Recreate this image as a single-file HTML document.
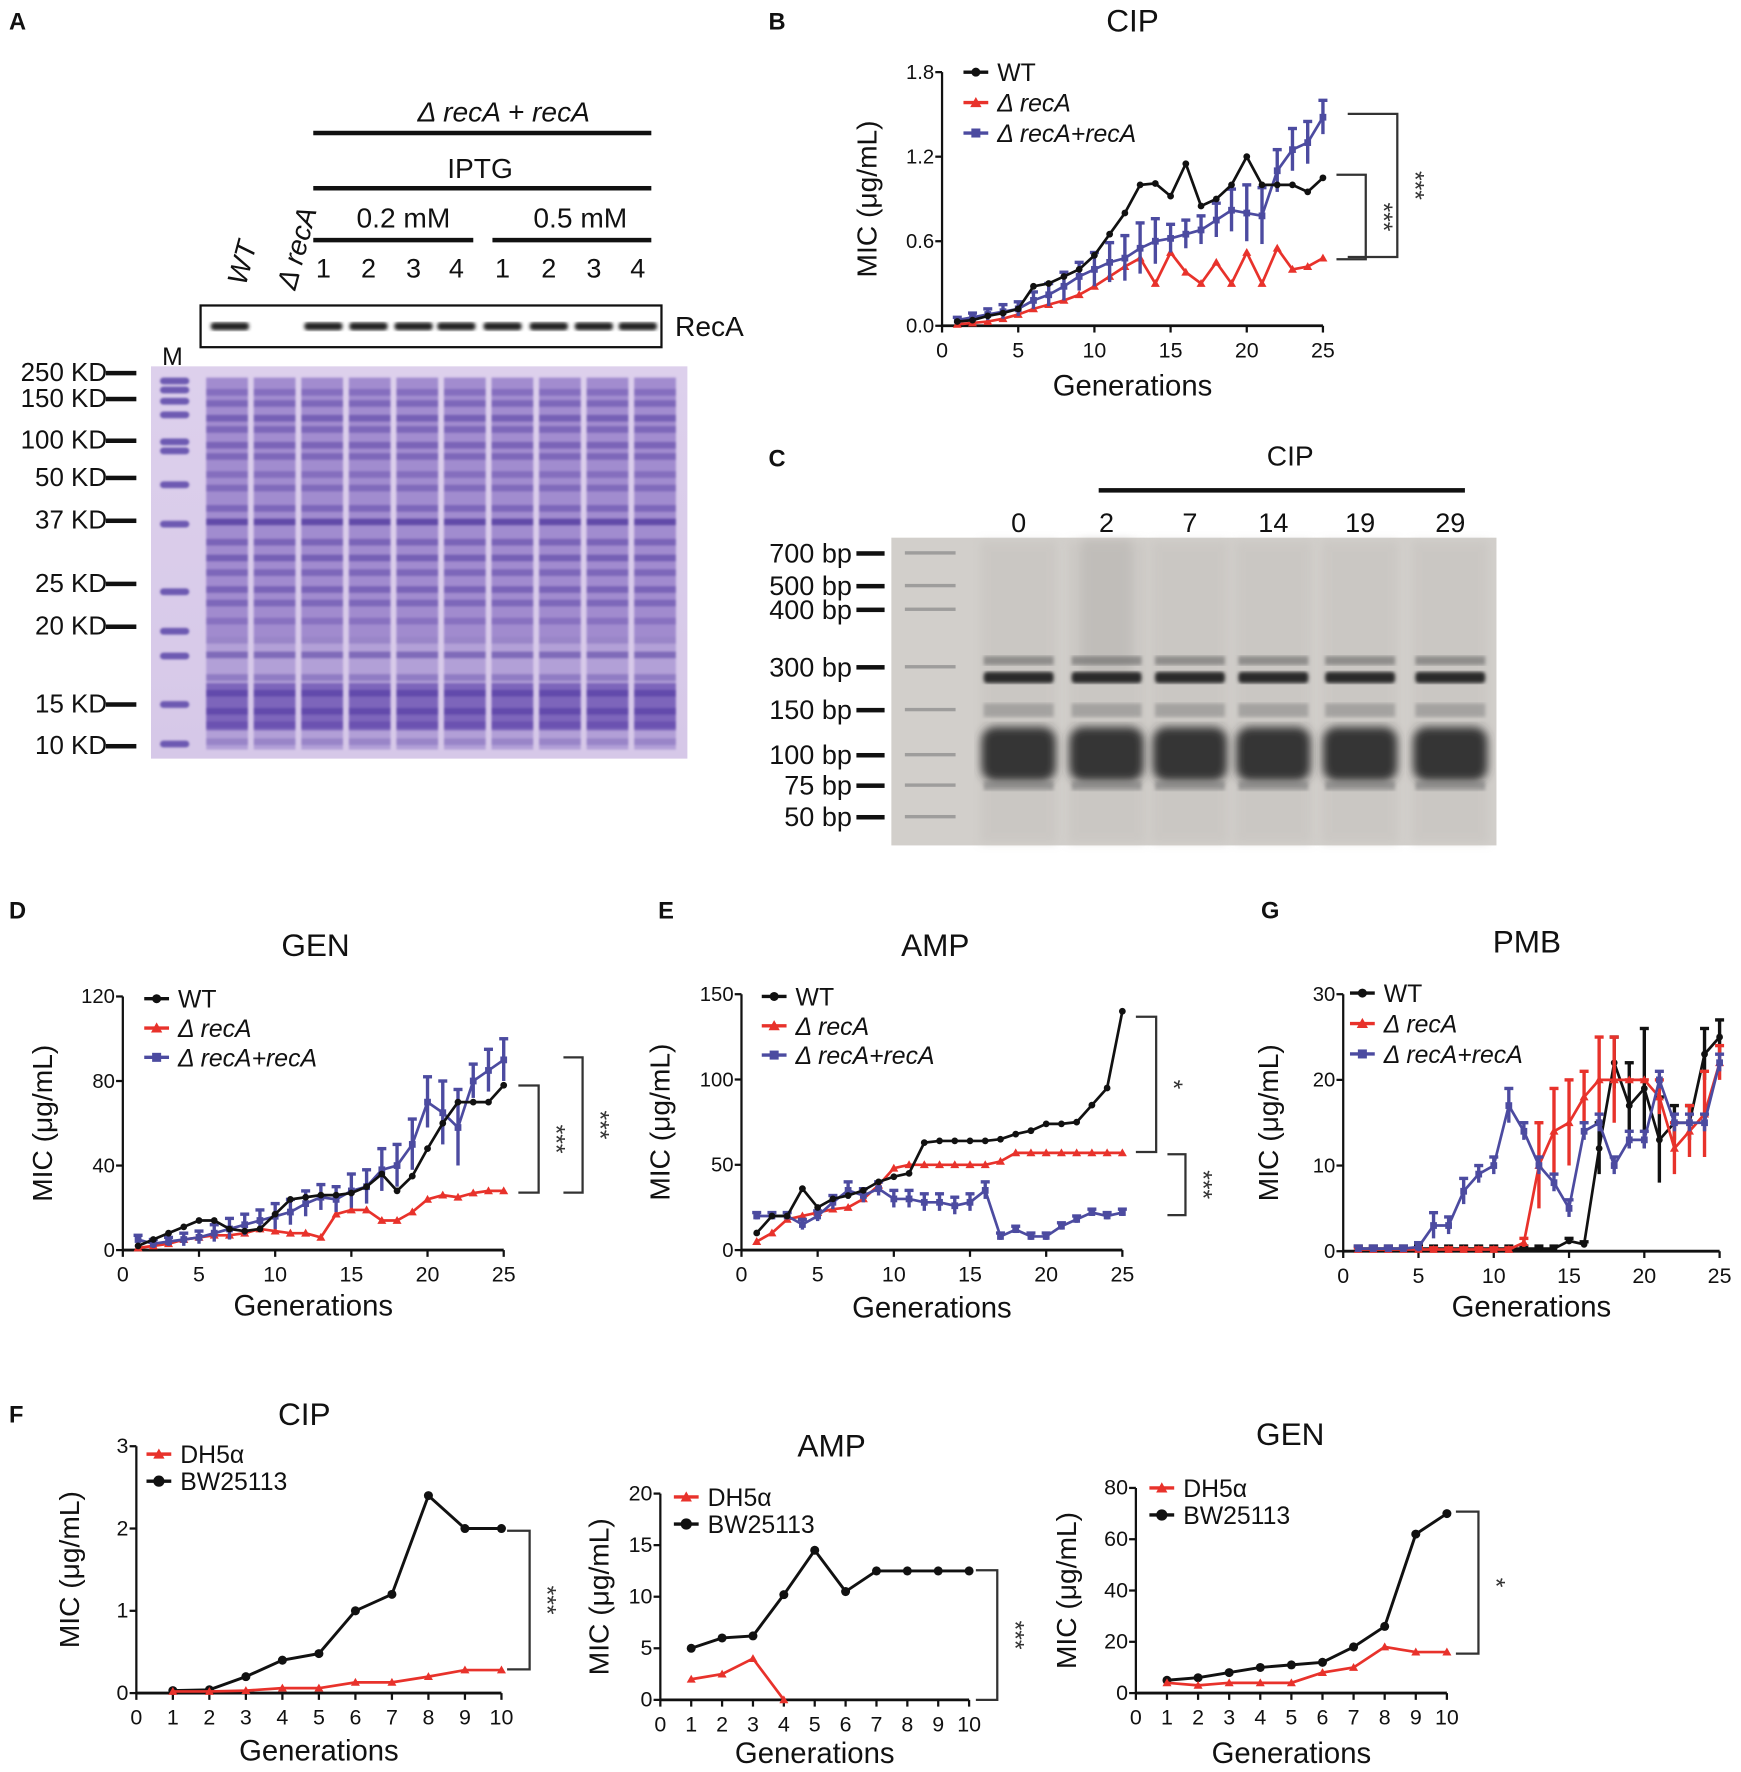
<!DOCTYPE html>
<html><head><meta charset="utf-8"><style>
html,body{margin:0;padding:0;background:#fff}
svg{display:block}
text{font-family:"Liberation Sans",Arial,sans-serif}
</style></head><body>
<svg id="fig" width="1741" height="1772" viewBox="0 0 1545 1572" preserveAspectRatio="none" xmlns="http://www.w3.org/2000/svg">
<defs>
<linearGradient id="gelA" x1="0" y1="0" x2="0" y2="1"><stop offset="0" stop-color="#ddd0ec"/><stop offset="1" stop-color="#d6c8e8"/></linearGradient>
<filter id="blur1"><feGaussianBlur stdDeviation="0.9"/></filter>
<filter id="blur2"><feGaussianBlur stdDeviation="1.6"/></filter>
<filter id="blur4"><feGaussianBlur stdDeviation="4"/></filter>
</defs>
<g font-weight="bold" font-size="21" fill="#111">
<text x="8" y="26">A</text>
<text x="682" y="26">B</text>
<text x="682" y="414">C</text>
<text x="8" y="815">D</text>
<text x="584" y="815">E</text>
<text x="1119" y="815">G</text>
<text x="8" y="1262">F</text>
</g>
<!-- Panel A -->
<g id="panelA" fill="#111">
<text x="447" y="108" font-size="25" text-anchor="middle" font-style="italic">Δ recA + recA</text>
<rect x="278" y="116" width="300" height="4"/>
<text x="426" y="158" font-size="25" text-anchor="middle">IPTG</text>
<rect x="278" y="165" width="300" height="4"/>
<text x="358" y="202" font-size="25" text-anchor="middle">0.2 mM</text>
<text x="515" y="202" font-size="25" text-anchor="middle">0.5 mM</text>
<rect x="278" y="211" width="142" height="4"/>
<rect x="437" y="211" width="141" height="4"/>
<g font-size="24" text-anchor="middle" id="laneNums"></g>
<text transform="translate(218,254) rotate(-75)" font-size="25" font-style="italic">WT</text>
<text transform="translate(262,258) rotate(-75)" font-size="25" font-style="italic">Δ recA</text>
<rect x="178" y="271" width="409" height="37" fill="#fff" stroke="#111" stroke-width="2"/>
<g id="blotBands" filter="url(#blur2)"></g>
<text x="599" y="298" font-size="25">RecA</text>
<text x="153" y="324" font-size="22" text-anchor="middle">M</text>
<rect x="134" y="325" width="476" height="348" fill="url(#gelA)"/>
<g id="gelBands"></g>
<g id="kdLabels" font-size="23" text-anchor="end"></g>
</g>
<!-- Panel C -->
<g id="panelC" fill="#111">
<text x="1145" y="413" font-size="25" text-anchor="middle">CIP</text>
<rect x="975" y="433" width="325" height="4"/>
<g id="cLaneLabels" font-size="24" text-anchor="middle"></g>
<rect x="791" y="477" width="537" height="273" fill="#d2cfcb"/>
<g id="cBands"></g>
<g id="bpLabels" font-size="24" text-anchor="end"></g>
</g>
<g id="charts"></g>
</svg>
<script>
// ---------- chart data ----------
const gen25 = [1,2,3,4,5,6,7,8,9,10,11,12,13,14,15,16,17,18,19,20,21,22,23,24,25];
const gen10 = [1,2,3,4,5,6,7,8,9,10];
// B: CIP
const cipWT   = [0.03,0.04,0.07,0.09,0.12,0.28,0.3,0.35,0.4,0.5,0.65,0.8,1.0,1.01,0.92,1.15,0.85,0.9,1.0,1.2,1.0,1.0,1.0,0.95,1.05];
const cipRecA = [0.01,0.02,0.03,0.05,0.08,0.12,0.15,0.18,0.22,0.28,0.35,0.42,0.48,0.3,0.52,0.38,0.3,0.45,0.3,0.52,0.3,0.55,0.4,0.42,0.48];
const cipComp = [0.04,0.06,0.08,0.1,0.12,0.18,0.22,0.28,0.35,0.4,0.45,0.48,0.55,0.6,0.62,0.65,0.68,0.75,0.82,0.8,0.78,1.1,1.25,1.3,1.48];
const cipCompErr = [0.02,0.03,0.04,0.05,0.05,0.06,0.08,0.1,0.1,0.12,0.14,0.16,0.18,0.16,0.1,0.1,0.1,0.12,0.15,0.2,0.2,0.15,0.15,0.15,0.12];
// D: GEN
const genWT   = [2,5,8,11,14,14,10,9,10,17,24,25,26,26,27,30,36,28,35,48,60,70,70,70,78];
const genRecA = [1,2,3,5,6,7,7,8,10,9,8,8,6,17,19,19,14,14,18,24,26,25,27,28,28];
const genComp = [5,3,4,5,6,8,10,12,14,16,18,22,25,24,28,30,38,40,50,70,65,58,80,85,90];
const genCompErr = [2,2,2,3,3,4,5,5,5,6,6,6,6,6,8,8,10,10,12,12,15,18,8,10,10];
// E: AMP
const ampWT   = [10,20,20,36,25,30,32,35,40,43,45,63,64,64,64,64,65,68,70,74,74,75,85,95,140];
const ampRecA = [5,10,18,20,22,24,25,30,38,48,50,50,50,50,50,50,52,57,57,57,57,57,57,57,57];
const ampComp = [20,20,20,15,20,28,35,32,36,30,30,28,28,26,28,35,8,12,8,8,14,18,22,20,22];
const ampCompErr = [2,2,2,3,3,4,5,4,4,5,5,5,5,5,5,5,2,2,2,2,2,2,2,2,2];
// G: PMB
const pmbWT   = [0.3,0.3,0.3,0.3,0.3,0.3,0.3,0.3,0.3,0.3,0.3,0.3,0.3,0.3,1.2,0.8,12,22,17,19,13,15,15,23,25];
const pmbRecA = [0.2,0.2,0.2,0.2,0.2,0.2,0.2,0.2,0.2,0.2,0.2,1,10,14,15,18,20,20,20,20,18,12,14,16,22];
const pmbComp = [0.3,0.3,0.3,0.3,0.5,3,3,7,9,10,17,14,10,8,5,14,15,10,13,13,20,15,15,15,22];
const pmbWTErr   = [0.3,0.3,0.3,0.3,0.3,0.3,0.3,0.3,0.3,0.3,0.3,0.3,0.3,0.3,0.3,0.3,3,3,5,7,5,2,2,3,2];
const pmbRecAErr = [0.2,0.2,0.2,0.2,0.2,0.2,0.2,0.2,0.2,0.2,0.2,0.5,5,5,5,3,5,5,0,0,2,3,3,5,2];
const pmbCompErr = [0.3,0.3,0.3,0.3,0.5,1.5,1,1.5,1,1,2,1,1,1,1,1,1,1,1,1,1,1,1,1,1];
// F
const fCipBW = [0.03,0.04,0.2,0.4,0.48,1.0,1.2,2.4,2.0,2.0];
const fCipDH = [0.02,0.02,0.03,0.06,0.06,0.13,0.13,0.2,0.28,0.28];
const fAmpBW = [5,6,6.2,10.2,14.5,10.5,12.5,12.5,12.5,12.5];
const fAmpDH = [2,2.5,4,0];
const fGenBW = [5,6,8,10,11,12,18,26,62,70];
const fGenDH = [4,3,4,4,4,8,10,18,16,16];
// tick labels
const ticksB = ["0.0","0.6","1.2","1.8"]; const tickValsB=[0,0.6,1.2,1.8];
const ticksD = [0,40,80,120];
const ticksE = [0,50,100,150];
const ticksG = [0,10,20,30];
const ticksX25 = [0,5,10,15,20,25];
const ticksX10 = [0,1,2,3,4,5,6,7,8,9,10];
const ticksFCip=[0,1,2,3], ticksFAmp=[0,5,10,15,20], ticksFGen=[0,20,40,60,80];

const NS="http://www.w3.org/2000/svg";
const root=document.getElementById('charts');
function el(tag,attrs,parent,text){const e=document.createElementNS(NS,tag);for(const k in attrs)e.setAttribute(k,attrs[k]);if(text!==undefined)e.textContent=text;(parent||root).appendChild(e);return e;}
const BLK="#111",RED="#e8322b",BLU="#4c4ba0";

function chart(c){
  const g=el('g',{},root);
  
  
  const sx=v=>c.x0+(v-c.xmin)/(c.xmax-c.xmin)*(c.x1-c.x0);
  const sy=v=>c.y0-(v/c.ymax)*(c.y0-c.y1);
  const ya=el('line',{x1:c.x0,y1:c.y1,x2:c.x0,y2:c.y0,stroke:BLK,'stroke-width':2},g);
  
  const xa=el('line',{x1:c.x0,y1:c.y0,x2:c.x1,y2:c.y0,stroke:BLK,'stroke-width':2.5},g);
  
  c.yt.forEach((v,i)=>{const y=sy(v);el('line',{x1:c.x0-6,y1:y,x2:c.x0,y2:y,stroke:BLK,'stroke-width':2},g);
    const t=el('text',{x:c.x0-7,y:y+6,'font-size':c.tfs||18,'text-anchor':'end',fill:BLK},g,c.ytl?c.ytl[i]:v);
    });
  c.xt.forEach(v=>{const x=sx(v);el('line',{x1:x,y1:c.y0,x2:x,y2:c.y0+6,stroke:BLK,'stroke-width':2},g);
    const t=el('text',{x:x,y:c.y0+28,'font-size':c.tfs||19,'text-anchor':'middle',fill:BLK},g,v);
    });
  const tt=el('text',{x:c.tx,y:c.ty,'font-size':c.titfs||28,'text-anchor':'middle',fill:BLK},g,c.title);
  
  const xl=el('text',{x:(c.x0+c.x1)/2,y:c.y0+(c.xly||58),'font-size':26,'text-anchor':'middle',fill:BLK},g,'Generations');
  
  const yl=el('text',{transform:`translate(${c.ylx},${(c.y0+c.y1)/2}) rotate(-90)`,'font-size':25,'text-anchor':'middle',fill:BLK,'xml:space':'preserve'},g,'MIC   (μg/mL)');
  
  c.series.forEach((s,si)=>{
    const sg=el('g',{},g);
    
    if(s.err){s.vals.forEach((v,i)=>{const x=sx(s.xs[i]);const yt=sy(v+s.err[i]),yb=sy(Math.max(0,v-s.err[i]));
      const eb=el('line',{x1:x,y1:yb,x2:x,y2:yt,stroke:s.col,'stroke-width':3},sg);
      
      el('line',{x1:x-4,y1:yt,x2:x+4,y2:yt,stroke:s.col,'stroke-width':3},sg);});}
    const pts=s.vals.map((v,i)=>sx(s.xs[i])+','+sy(v)).join(' ');
    const pl=el('polyline',{points:pts,fill:'none',stroke:s.col,'stroke-width':s.lw||2.4},sg);
    
    s.vals.forEach((v,i)=>{const x=sx(s.xs[i]),y=sy(v);const r=s.r||3;let m;
      if(s.mk==='c')m=el('circle',{cx:x,cy:y,r:r,fill:s.col},sg);
      else if(s.mk==='s')m=el('rect',{x:x-r,y:y-r,width:2*r,height:2*r,fill:s.col},sg);
      else m=el('polygon',{points:`${x},${y-r-1} ${x-r-1},${y+r} ${x+r+1},${y+r}`,fill:s.col},sg);
      });
  });
  c.series.slice().sort((a,b)=>a.lo-b.lo).forEach((s,i)=>{
    const ly=c.ly+i*c.lstep;
    const lg=el('g',{},g);
    el('line',{x1:c.lx,y1:ly,x2:c.lx+22,y2:ly,stroke:s.col,'stroke-width':3},lg);
    const r=s.r||3;
    if(s.mk==='c')el('circle',{cx:c.lx+11,cy:ly,r:r+1,fill:s.col},lg);
    else if(s.mk==='s')el('rect',{x:c.lx+7,y:ly-4,width:8,height:8,fill:s.col},lg);
    else el('polygon',{points:`${c.lx+11},${ly-5} ${c.lx+6},${ly+4} ${c.lx+16},${ly+4}`,fill:s.col},lg);
    el('text',{x:c.lx+30,y:ly+8,'font-size':22,fill:BLK,'font-style':s.it?'italic':'normal'},lg,s.label);
  });
  (c.br||[]).forEach(b=>{
    const bg=el('g',{},g);
    el('polyline',{points:`${b.x1},${b.ya} ${b.x2},${b.ya} ${b.x2},${b.yb} ${b.x1},${b.yb}`,fill:'none',stroke:'#333','stroke-width':2},bg);
    el('text',{transform:`translate(${b.x2+8},${(b.ya+b.yb)/2}) rotate(90)`,'font-size':22,'text-anchor':'middle',fill:'#333'},bg,b.t);
  });
}
const three=(a,b,c,ea,eb,ec)=>[
  {key:'wt',label:'WT',vals:a,xs:gen25,col:BLK,mk:'c',err:ea,lo:0},
  {key:'recA',label:'Δ recA',vals:b,xs:gen25,col:RED,mk:'t',err:eb,lo:1,it:true},
  {key:'comp',label:'Δ recA+recA',vals:c,xs:gen25,col:BLU,mk:'s',err:ec,lo:2,it:true}];
{const s=three(cipWT,cipRecA,cipComp,null,null,cipCompErr);s.push(s.shift());
chart({name:'chart-b-cip',x0:836,x1:1174,xmin:0,xmax:25,y0:289,y1:64,ymax:1.8,yt:tickValsB,ytl:ticksB,xt:ticksX25,
title:'CIP',tx:1005,ty:28,ylx:778,lx:855,ly:64,lstep:27,series:s,xly:62,
br:[{x1:1186,x2:1212,ya:155,yb:230,t:'***'},{x1:1196,x2:1240,ya:101,yb:228,t:'***'}]});}
{const s=three(genWT,genRecA,genComp,null,null,genCompErr);s.push(s.shift());
chart({name:'chart-d-gen',x0:109,x1:447,xmin:0,xmax:25,y0:1109,y1:884,ymax:120,yt:ticksD,xt:ticksX25,
title:'GEN',tx:280,ty:848,ylx:46,lx:128,ly:886,lstep:26,series:s,xly:58,
br:[{x1:460,x2:478,ya:963,yb:1058,t:'***'},{x1:500,x2:517,ya:938,yb:1058,t:'***'}]});}
{const s=three(ampWT,ampRecA,ampComp,null,null,ampCompErr);s.push(s.shift());
chart({name:'chart-e-amp',x0:658,x1:996,xmin:0,xmax:25,y0:1109,y1:882,ymax:150,yt:ticksE,xt:ticksX25,
title:'AMP',tx:830,ty:848,ylx:594,lx:676,ly:884,lstep:26,series:s,xly:60,
br:[{x1:1008,x2:1026,ya:902,yb:1022,t:'*'},{x1:1036,x2:1052,ya:1024,yb:1078,t:'***'}]});}
{const s=three(pmbWT,pmbRecA,pmbComp,pmbWTErr,pmbRecAErr,pmbCompErr);
chart({name:'chart-g-pmb',x0:1192,x1:1526,xmin:0,xmax:25,y0:1110,y1:882,ymax:30,yt:ticksG,xt:ticksX25,
title:'PMB',tx:1355,ty:845,ylx:1134,lx:1198,ly:881,lstep:27,series:s,xly:58});}
const fs=(bw,dh)=>[
 {key:'bw25113',label:'BW25113',vals:bw,xs:gen10,col:BLK,mk:'c',r:4,lw:2.6,lo:1},
 {key:'dh5a',label:'DH5α',vals:dh,xs:gen10.slice(0,dh.length),col:RED,mk:'t',r:3,lo:0}];
chart({name:'chart-f-cip',x0:121,x1:445,xmin:0,xmax:10,y0:1502,y1:1283,ymax:3,yt:ticksFCip,xt:ticksX10,
title:'CIP',tx:270,ty:1264,ylx:70,lx:130,ly:1290,lstep:24,series:fs(fCipBW,fCipDH),xly:60,tfs:19,
br:[{x1:450,x2:470,ya:1358,yb:1481,t:'***'}]});
chart({name:'chart-f-amp',x0:586,x1:860,xmin:0,xmax:10,y0:1508,y1:1325,ymax:20,yt:ticksFAmp,xt:ticksX10,
title:'AMP',tx:738,ty:1292,ylx:540,lx:598,ly:1328,lstep:24,series:fs(fAmpBW,fAmpDH),xly:56,tfs:19,
br:[{x1:866,x2:885,ya:1393,yb:1508,t:'***'}]});
chart({name:'chart-f-gen',x0:1008,x1:1284,xmin:0,xmax:10,y0:1502,y1:1320,ymax:80,yt:ticksFGen,xt:ticksX10,
title:'GEN',tx:1145,ty:1282,ylx:955,lx:1020,ly:1320,lstep:24,series:fs(fGenBW,fGenDH),xly:62,tfs:19,
br:[{x1:1292,x2:1312,ya:1341,yb:1467,t:'*'}]});

// ---------- gels (decorative) ----------
const ln=document.getElementById('laneNums');
["1","2","3","4","1","2","3","4"].forEach((n,i)=>{const x=[287,327,367,405,446,487,527,566][i];const t=el('text',{x:x,y:246},ln,n);
});
const bb=document.getElementById('blotBands');
[204,0,287,327,367,405,446,487,527,566].forEach(x=>{if(x)el('rect',{x:x-17,y:286,width:34,height:7,rx:3,fill:'#222'},bb);});
const gb=document.getElementById('gelBands');
const bandY=[345,355,368,378,392,402,418,430,448,460,478,492,505,520,532,548,565,578,598,612,628,640,655];
const bandA=[0.4,0.5,0.6,0.5,0.55,0.5,0.4,0.45,0.5,0.9,0.55,0.6,0.5,0.55,0.5,0.35,0.3,0.6,0.4,0.8,0.75,0.5,0.3];
const gbb=el('g',{filter:'url(#blur1)'},gb);
for(let l=0;l<10;l++){const x=183+l*42.2;
 el('rect',{x:x,y:335,width:37,height:330,fill:'#9a84cc',opacity:0.6},gbb);
 el('rect',{x:x,y:335,width:37,height:230,fill:'#7d64bd',opacity:0.35},gbb);
 bandY.forEach((y,i)=>el('rect',{x:x,y:y,width:37,height:6,fill:'#48309a',opacity:bandA[i]*0.8},gbb));
 el('rect',{x:x,y:606,width:37,height:42,fill:'#5a3fa8',opacity:0.6},gbb);}
[338,346,356,368,392,400,430,465,525,560,582,625,660].forEach(y=>el('rect',{x:142,y:y-3,width:26,height:6,rx:3,fill:'#5b46a8',opacity:0.85},gbb));
const kd=document.getElementById('kdLabels');
[["250 KD",330],["150 KD",353],["100 KD",390],["50 KD",423],["37 KD",461],["25 KD",517],["20 KD",555],["15 KD",624],["10 KD",661]].forEach(([t,y])=>{
 const tx=el('text',{x:95,y:y+8},kd,t);
 el('rect',{x:94,y:y-1,width:27,height:4,fill:'#111'},kd);});
const cl=document.getElementById('cLaneLabels');
const cx=[904,982,1056,1130,1207,1287];
["0","2","7","14","19","29"].forEach((n,i)=>{const t=el('text',{x:cx[i],y:472},cl,n);});
const cb=document.getElementById('cBands');
el('rect',{x:960,y:480,width:44,height:120,fill:'#a9a6a3',opacity:0.5,filter:'url(#blur4)'},cb);
cx.forEach(x=>{
 el('rect',{x:x-34,y:480,width:68,height:268,fill:'#c4c1bd',opacity:0.5,filter:'url(#blur4)'},cb);
 el('rect',{x:x-31,y:582,width:62,height:8,fill:'#555',opacity:0.5,filter:'url(#blur2)'},cb);
 el('rect',{x:x-31,y:596,width:62,height:10,rx:3,fill:'#2a2a2a',filter:'url(#blur2)'},cb);
 el('rect',{x:x-31,y:624,width:62,height:12,fill:'#777',opacity:0.45,filter:'url(#blur2)'},cb);
 el('rect',{x:x-33,y:645,width:66,height:48,rx:12,fill:'#353535',filter:'url(#blur4)'},cb);
 el('rect',{x:x-31,y:693,width:62,height:8,fill:'#777',opacity:0.6,filter:'url(#blur2)'},cb);});
[491,520,541,592,630,670,697,725].forEach(y=>el('rect',{x:803,y:y-2,width:45,height:3,fill:'#888',opacity:0.7},cb));
const bp=document.getElementById('bpLabels');
[["700 bp",491],["500 bp",520],["400 bp",541],["300 bp",592],["150 bp",630],["100 bp",670],["75 bp",697],["50 bp",725]].forEach(([t,y])=>{
 const tx=el('text',{x:756,y:y+8},bp,t);
 el('rect',{x:760,y:y-2,width:25,height:4,fill:'#111'},bp);});
</script>
</body></html>
